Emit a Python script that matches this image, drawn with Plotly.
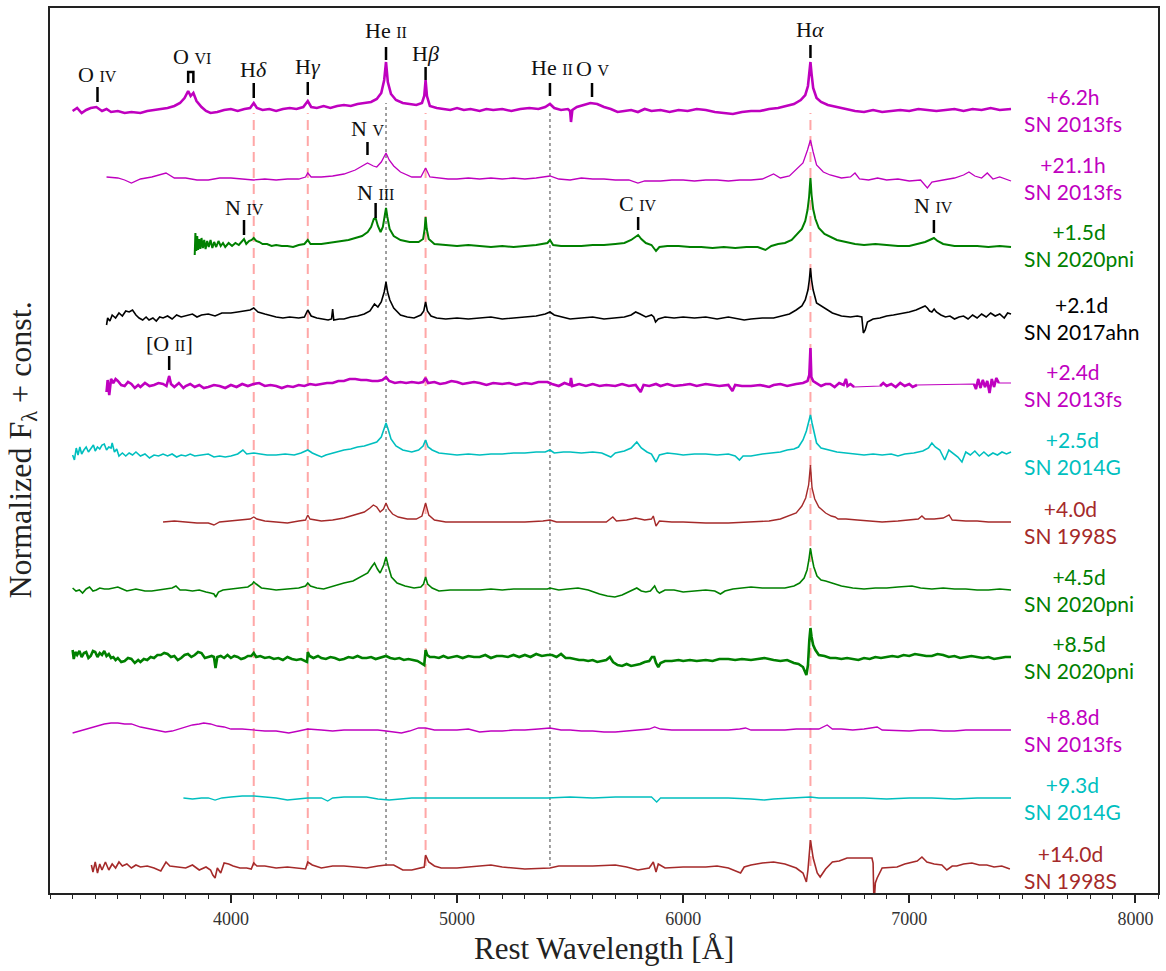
import plotly.graph_objects as go

# ---------------------------------------------------------------------------
# Normalized spectra (rest wavelength [A], F_lambda normalized to continuum = 1)
# ---------------------------------------------------------------------------
sn2013fs_6h = [
    (3300, 0.95), (3320, 1.1), (3340, 0.85), (3360, 1.0), (3380, 1.1), (3405, 1.15), (3430, 0.95),
    (3450, 1.05), (3470, 0.9), (3500, 0.95), (3530, 0.85), (3560, 0.9), (3600, 0.85), (3630, 0.95),
    (3660, 1.0), (3690, 1.05), (3720, 1.1), (3750, 1.2), (3775, 1.35), (3795, 1.6), (3811, 1.95),
    (3822, 1.7), (3834, 1.85), (3848, 1.45), (3870, 1.15), (3890, 0.95), (3910, 0.85), (3940, 0.9),
    (3970, 1.0), (4000, 1.05), (4030, 0.95), (4060, 1.05), (4085, 1.1), (4101, 1.35), (4115, 1.1),
    (4140, 1.0), (4170, 1.05), (4200, 0.95), (4230, 1.05), (4260, 1.1), (4290, 1.05), (4320, 1.15),
    (4340, 1.45), (4355, 1.15), (4380, 1.1), (4410, 1.2), (4440, 1.1), (4470, 1.2), (4500, 1.25),
    (4530, 1.2), (4560, 1.3), (4590, 1.35), (4620, 1.4), (4645, 1.55), (4665, 1.85), (4678, 2.5),
    (4686, 3.4), (4694, 2.4), (4708, 1.8), (4730, 1.5), (4760, 1.35), (4790, 1.3), (4820, 1.25),
    (4845, 1.35), (4855, 1.7), (4861, 2.5), (4867, 1.7), (4880, 1.2), (4910, 1.1), (4940, 1.05),
    (4970, 1.0), (5000, 1.1), (5030, 1.0), (5060, 1.05), (5100, 0.95), (5130, 1.05), (5160, 1.0),
    (5200, 1.05), (5240, 0.95), (5280, 1.05), (5320, 1.1), (5360, 1.05), (5390, 1.15), (5411, 1.3),
    (5430, 1.1), (5460, 1.0), (5490, 1.05), (5500, 0.95), (5504, 0.4), (5510, 1.0), (5530, 1.15),
    (5560, 1.25), (5590, 1.35), (5620, 1.3), (5650, 1.15), (5680, 1.05), (5710, 0.9), (5740, 0.95),
    (5770, 1.0), (5800, 0.9), (5830, 1.05), (5860, 0.95), (5900, 1.0), (5940, 0.9), (5980, 1.0),
    (6020, 0.95), (6060, 1.05), (6100, 1.0), (6140, 0.9), (6180, 0.85), (6220, 0.8), (6260, 0.9),
    (6300, 0.95), (6340, 0.95), (6380, 1.05), (6420, 1.1), (6460, 1.2), (6490, 1.3), (6520, 1.5),
    (6540, 1.75), (6552, 2.2), (6558, 2.9), (6563, 3.4), (6568, 2.8), (6575, 2.1), (6590, 1.6),
    (6610, 1.4), (6640, 1.25), (6680, 1.15), (6720, 1.05), (6760, 0.95), (6800, 0.9), (6840, 1.0),
    (6880, 0.9), (6920, 0.95), (6960, 1.0), (7000, 0.95), (7040, 1.05), (7080, 1.0), (7120, 0.95),
    (7160, 1.0), (7200, 1.05), (7240, 0.95), (7280, 1.05), (7320, 1.0), (7360, 1.1), (7400, 1.0),
    (7450, 1.05),
]

sn2013fs_21h = [
    (3450, 1.05), (3500, 1.0), (3530, 0.9), (3560, 0.75), (3600, 0.95), (3650, 1.05), (3713, 1.25),
    (3750, 1.0), (3800, 1.0), (3850, 0.9), (3900, 0.9), (3950, 1.0), (4000, 1.0), (4050, 0.95),
    (4100, 0.9), (4150, 0.95), (4200, 0.9), (4250, 0.95), (4300, 0.95), (4330, 1.05), (4340, 1.25),
    (4355, 1.05), (4400, 1.05), (4450, 1.1), (4500, 1.2), (4550, 1.4), (4585, 1.6), (4604, 1.75),
    (4630, 1.6), (4645, 1.55), (4665, 1.8), (4680, 2.1), (4686, 2.25), (4700, 1.9), (4720, 1.6),
    (4750, 1.3), (4800, 1.05), (4840, 1.05), (4861, 1.5), (4880, 1.05), (4920, 1.0), (4960, 0.95),
    (5000, 0.95), (5050, 1.0), (5100, 0.95), (5150, 1.0), (5200, 0.95), (5250, 1.0), (5300, 0.95),
    (5350, 1.0), (5411, 1.1), (5450, 0.95), (5500, 0.9), (5550, 1.0), (5600, 0.95), (5650, 0.95),
    (5700, 0.9), (5760, 0.9), (5800, 0.75), (5830, 0.85), (5900, 0.85), (5950, 0.9), (6000, 0.9),
    (6050, 0.85), (6100, 0.9), (6150, 0.9), (6200, 0.85), (6250, 0.9), (6300, 0.9), (6350, 0.95),
    (6400, 1.2), (6430, 1.0), (6470, 1.1), (6500, 1.4), (6530, 1.75), (6550, 2.4), (6563, 2.9),
    (6575, 2.3), (6590, 1.65), (6620, 1.3), (6650, 1.15), (6700, 1.0), (6740, 1.05), (6760, 1.25),
    (6780, 0.95), (6820, 0.9), (6860, 1.0), (6900, 0.9), (6950, 0.95), (7000, 0.85), (7050, 0.9),
    (7080, 0.5), (7100, 0.8), (7150, 0.9), (7200, 1.0), (7240, 1.15), (7264, 1.3), (7290, 1.1),
    (7320, 1.0), (7345, 1.25), (7370, 0.95), (7400, 1.05), (7430, 0.95), (7450, 0.85),
]

sn2020pni_1d5 = [
    (3840, 0.5), (3843, 1.6), (3847, 0.7), (3851, 1.45), (3855, 0.75), (3860, 1.3), (3865, 0.8),
    (3870, 1.35), (3876, 0.85), (3882, 1.25), (3888, 0.8), (3895, 1.2), (3902, 0.9), (3910, 1.25),
    (3918, 0.85), (3926, 1.15), (3935, 0.9), (3945, 1.2), (3955, 0.95), (3965, 1.1), (3975, 0.9),
    (3990, 1.1), (4005, 0.95), (4020, 1.1), (4035, 1.0), (4048, 1.15), (4058, 1.3), (4068, 1.05),
    (4080, 1.2), (4092, 1.25), (4101, 1.35), (4112, 1.2), (4125, 1.15), (4140, 1.05), (4160, 1.05),
    (4180, 0.95), (4200, 1.0), (4225, 0.95), (4250, 0.95), (4275, 0.9), (4300, 1.0), (4325, 1.05),
    (4340, 1.25), (4352, 1.05), (4375, 1.05), (4400, 1.05), (4430, 1.1), (4460, 1.15), (4490, 1.2),
    (4520, 1.25), (4550, 1.35), (4580, 1.45), (4605, 1.65), (4620, 1.9), (4632, 2.3), (4640, 2.35),
    (4650, 1.95), (4662, 1.65), (4672, 1.9), (4680, 2.4), (4686, 2.85), (4692, 2.4), (4702, 1.8),
    (4720, 1.45), (4750, 1.25), (4790, 1.15), (4830, 1.15), (4850, 1.3), (4857, 1.8), (4861, 2.4),
    (4866, 1.8), (4875, 1.3), (4900, 1.05), (4950, 1.0), (5000, 0.95), (5050, 1.0), (5100, 0.95),
    (5150, 0.9), (5200, 0.95), (5250, 0.9), (5300, 0.95), (5350, 1.0), (5400, 1.1), (5411, 1.25),
    (5425, 1.0), (5460, 0.95), (5500, 0.95), (5550, 0.95), (5600, 1.0), (5650, 1.0), (5700, 1.05),
    (5740, 1.1), (5770, 1.25), (5790, 1.4), (5801, 1.5), (5815, 1.3), (5835, 1.1), (5860, 1.0),
    (5880, 0.7), (5895, 0.9), (5930, 0.95), (5980, 0.95), (6030, 0.9), (6080, 0.9), (6130, 0.85),
    (6180, 0.9), (6230, 0.85), (6280, 0.9), (6330, 0.9), (6364, 0.75), (6390, 0.95), (6420, 1.05),
    (6450, 1.1), (6480, 1.25), (6500, 1.5), (6525, 1.8), (6540, 2.2), (6550, 2.75), (6557, 3.4),
    (6563, 4.35), (6568, 3.5), (6575, 2.8), (6585, 2.3), (6600, 1.85), (6625, 1.55), (6650, 1.4),
    (6680, 1.25), (6720, 1.15), (6760, 1.05), (6800, 1.0), (6850, 1.05), (6900, 1.0), (6950, 0.95),
    (7000, 0.95), (7040, 1.05), (7070, 1.15), (7090, 1.25), (7109, 1.35), (7125, 1.2), (7150, 1.05),
    (7200, 0.95), (7250, 0.95), (7300, 0.95), (7350, 0.9), (7400, 0.95), (7450, 0.9),
]

sn2017ahn_2d1 = [
    (3450, 0.65), (3455, 1.0), (3465, 0.85), (3475, 1.15), (3490, 1.0), (3505, 1.25), (3520, 1.1),
    (3535, 1.35), (3550, 1.3), (3565, 1.4), (3580, 1.15), (3594, 1.0), (3610, 0.9), (3625, 1.05),
    (3638, 0.9), (3655, 1.0), (3670, 0.85), (3685, 1.05), (3700, 1.0), (3720, 1.1), (3740, 0.95),
    (3760, 1.15), (3780, 1.05), (3800, 1.1), (3830, 1.2), (3850, 1.05), (3870, 1.15), (3900, 1.2),
    (3930, 1.1), (3960, 1.25), (4000, 1.25), (4030, 1.3), (4060, 1.35), (4085, 1.4), (4101, 1.5),
    (4120, 1.3), (4150, 1.2), (4180, 1.1), (4200, 1.05), (4230, 1.0), (4260, 1.05), (4300, 1.0),
    (4325, 1.05), (4340, 1.4), (4355, 1.1), (4380, 1.0), (4400, 0.95), (4430, 0.9), (4445, 0.95),
    (4450, 1.45), (4455, 0.9), (4480, 0.95), (4500, 0.95), (4530, 1.05), (4560, 1.1), (4590, 1.2),
    (4615, 1.35), (4635, 1.7), (4650, 1.55), (4665, 1.8), (4678, 2.3), (4686, 2.8), (4693, 2.3),
    (4703, 1.9), (4720, 1.5), (4750, 1.15), (4780, 1.05), (4810, 1.0), (4840, 1.15), (4853, 1.35),
    (4861, 1.8), (4869, 1.35), (4885, 1.1), (4910, 1.0), (4950, 0.95), (5000, 1.0), (5050, 0.95),
    (5100, 1.0), (5150, 1.05), (5200, 0.95), (5250, 1.0), (5300, 1.05), (5350, 1.1), (5390, 1.2),
    (5411, 1.3), (5430, 1.15), (5470, 1.05), (5500, 0.95), (5550, 1.0), (5600, 1.05), (5650, 0.95),
    (5700, 1.0), (5740, 1.05), (5770, 1.15), (5790, 1.3), (5810, 1.2), (5835, 1.05), (5860, 1.15),
    (5870, 1.05), (5878, 0.8), (5890, 0.95), (5920, 1.05), (5960, 1.0), (6000, 1.05), (6050, 1.0),
    (6100, 1.05), (6150, 0.95), (6200, 1.05), (6240, 0.95), (6270, 0.9), (6300, 0.95), (6350, 1.0),
    (6400, 1.0), (6430, 1.1), (6470, 1.2), (6500, 1.4), (6525, 1.6), (6540, 1.9), (6552, 2.4),
    (6558, 2.9), (6563, 3.5), (6568, 2.9), (6575, 2.4), (6590, 1.75), (6610, 1.6), (6630, 1.45),
    (6660, 1.25), (6700, 1.1), (6740, 1.05), (6770, 1.1), (6790, 1.05), (6797, 0.25), (6805, 0.4),
    (6815, 0.8), (6840, 0.95), (6870, 1.0), (6900, 1.1), (6930, 1.15), (6960, 1.2), (7000, 1.3),
    (7030, 1.4), (7050, 1.5), (7070, 1.6), (7080, 1.5), (7090, 1.35), (7100, 1.3), (7110, 1.45),
    (7120, 1.3), (7140, 1.15), (7160, 1.05), (7180, 1.1), (7200, 0.95), (7220, 1.05), (7240, 1.1),
    (7260, 0.95), (7280, 1.15), (7300, 1.0), (7320, 1.2), (7340, 1.05), (7360, 1.25), (7380, 1.1),
    (7400, 1.2), (7420, 1.0), (7435, 1.25), (7450, 1.2),
]

sn2013fs_2d4 = [
    (3450, 0.65), (3455, 1.25), (3462, 0.5), (3470, 1.3), (3480, 1.1), (3490, 1.3), (3500, 1.2),
    (3515, 1.0), (3530, 0.95), (3545, 1.15), (3560, 1.05), (3575, 0.85), (3590, 1.0), (3600, 0.9),
    (3620, 1.1), (3640, 0.95), (3660, 1.0), (3680, 1.1), (3700, 1.05), (3715, 0.95), (3727, 1.45),
    (3735, 1.05), (3750, 0.9), (3770, 1.1), (3790, 0.85), (3800, 0.95), (3820, 1.05), (3840, 0.9),
    (3860, 1.0), (3880, 0.85), (3900, 0.9), (3925, 1.0), (3950, 0.95), (3975, 0.85), (4000, 1.0),
    (4025, 0.9), (4050, 1.05), (4075, 0.95), (4100, 1.05), (4125, 1.1), (4150, 0.95), (4175, 1.0),
    (4200, 0.95), (4225, 0.85), (4250, 0.95), (4275, 0.9), (4300, 1.0), (4325, 0.95), (4350, 1.05),
    (4375, 1.0), (4400, 1.05), (4425, 1.1), (4450, 1.1), (4475, 1.2), (4500, 1.2), (4525, 1.3),
    (4550, 1.3), (4575, 1.25), (4600, 1.25), (4625, 1.2), (4650, 1.2), (4670, 1.25), (4686, 1.4),
    (4700, 1.2), (4725, 1.1), (4750, 1.15), (4775, 1.1), (4800, 1.15), (4830, 1.1), (4850, 1.15),
    (4861, 1.35), (4872, 1.1), (4900, 1.15), (4925, 1.05), (4950, 1.1), (4975, 1.2), (5000, 1.15),
    (5025, 1.05), (5050, 1.1), (5075, 1.15), (5100, 1.1), (5130, 1.0), (5160, 1.1), (5200, 1.05),
    (5230, 1.1), (5260, 1.0), (5300, 1.1), (5330, 1.05), (5360, 1.15), (5400, 1.15), (5420, 1.05),
    (5450, 0.95), (5475, 1.1), (5500, 1.0), (5504, 1.35), (5510, 0.95), (5540, 1.05), (5570, 0.95),
    (5600, 1.05), (5630, 0.95), (5660, 1.0), (5700, 0.95), (5730, 1.05), (5760, 0.95), (5790, 1.0),
    (5812, 0.65), (5825, 1.0), (5850, 0.95), (5880, 1.05), (5900, 0.95), (5930, 1.05), (5960, 0.95),
    (6000, 1.0), (6030, 1.05), (6060, 0.95), (6100, 1.05), (6130, 1.0), (6160, 0.95), (6200, 1.0),
    (6218, 0.7), (6230, 1.0), (6260, 0.95), (6300, 0.95), (6340, 1.0), (6380, 0.9), (6400, 1.0),
    (6430, 1.05), (6460, 0.95), (6500, 1.05), (6530, 1.1), (6550, 1.2), (6558, 1.5), (6563, 2.85),
    (6567, 1.4), (6575, 1.2), (6590, 1.1), (6610, 0.95), (6630, 1.05), (6650, 1.05), (6670, 0.9),
    (6690, 1.1), (6710, 1.0), (6720, 1.3), (6727, 0.95), (6740, 1.05), (6756, 0.9), (6871, 0.95),
    (6885, 1.1), (6900, 0.95), (6920, 1.05), (6940, 0.9), (6960, 1.1), (6980, 0.95), (7000, 1.05),
    (7015, 0.9), (7034, 1.0), (7286, 1.05), (7295, 0.8), (7305, 1.3), (7315, 0.85), (7325, 1.25),
    (7335, 0.9), (7345, 1.2), (7355, 0.6), (7365, 1.3), (7375, 0.9), (7385, 1.35), (7396, 1.1),
    (7450, 1.1),
]
# wavelength windows of sn2013fs_2d4 that hold measured pixels (the rest is interpolated)
sn2013fs_2d4_measured = [(3450, 6756), (6871, 7034), (7286, 7396)]

sn2014g_2d5 = [
    (3300, 0.9), (3308, 0.65), (3316, 1.25), (3324, 0.9), (3332, 1.3), (3340, 0.95), (3350, 1.15),
    (3360, 1.3), (3370, 1.05), (3380, 1.2), (3392, 1.4), (3400, 1.1), (3410, 1.3), (3420, 1.2),
    (3430, 1.4), (3440, 1.45), (3450, 1.15), (3460, 1.3), (3470, 1.25), (3475, 1.5), (3485, 1.05),
    (3495, 1.2), (3505, 0.85), (3520, 1.0), (3535, 0.85), (3550, 1.0), (3565, 0.9), (3580, 1.05),
    (3600, 0.85), (3620, 0.95), (3640, 0.75), (3660, 0.9), (3680, 0.85), (3700, 0.95), (3720, 0.85),
    (3740, 0.95), (3760, 0.8), (3780, 0.9), (3800, 0.85), (3820, 0.95), (3840, 0.85), (3870, 0.9),
    (3900, 0.95), (3925, 0.8), (3950, 0.85), (3975, 0.8), (4000, 0.85), (4030, 0.95), (4053, 1.15),
    (4070, 0.95), (4101, 1.0), (4130, 0.95), (4160, 0.9), (4200, 0.9), (4240, 0.95), (4280, 0.9),
    (4310, 1.0), (4340, 1.15), (4360, 1.0), (4380, 0.9), (4401, 0.8), (4420, 0.9), (4450, 1.0),
    (4480, 1.1), (4500, 1.15), (4530, 1.2), (4560, 1.3), (4590, 1.35), (4620, 1.45), (4645, 1.55),
    (4665, 1.8), (4678, 2.2), (4686, 2.5), (4695, 2.2), (4708, 1.7), (4730, 1.35), (4760, 1.15),
    (4800, 1.05), (4830, 1.15), (4850, 1.35), (4861, 1.65), (4872, 1.3), (4890, 1.15), (4920, 1.0),
    (4950, 0.95), (5000, 0.9), (5050, 0.95), (5100, 0.9), (5150, 0.95), (5200, 0.95), (5250, 1.0),
    (5300, 1.0), (5350, 1.05), (5390, 1.05), (5411, 1.15), (5430, 1.0), (5470, 1.05), (5500, 1.05),
    (5550, 1.0), (5600, 1.05), (5640, 1.0), (5680, 0.8), (5700, 1.0), (5740, 1.1), (5770, 1.25),
    (5795, 1.55), (5815, 1.25), (5840, 1.05), (5860, 0.95), (5880, 0.55), (5895, 0.9), (5930, 1.0),
    (5970, 0.95), (6000, 0.9), (6050, 0.95), (6100, 0.95), (6150, 0.9), (6200, 0.95), (6230, 0.85),
    (6249, 0.65), (6265, 0.85), (6300, 0.85), (6350, 0.95), (6400, 1.0), (6430, 1.05), (6460, 1.15),
    (6490, 1.2), (6510, 1.3), (6530, 1.65), (6545, 2.1), (6556, 2.6), (6563, 2.9), (6570, 2.5),
    (6578, 2.15), (6590, 1.5), (6610, 1.25), (6640, 1.15), (6680, 1.05), (6720, 1.0), (6760, 0.95),
    (6800, 0.9), (6840, 0.95), (6880, 0.9), (6920, 0.95), (6950, 0.85), (6980, 0.95), (7020, 1.0),
    (7060, 1.1), (7085, 1.25), (7100, 1.5), (7115, 1.3), (7135, 1.15), (7157, 0.65), (7175, 1.15),
    (7195, 0.95), (7215, 0.8), (7233, 0.55), (7250, 1.05), (7270, 0.9), (7290, 1.1), (7310, 0.85),
    (7330, 1.05), (7350, 0.85), (7370, 1.0), (7390, 0.9), (7410, 1.05), (7430, 0.95), (7450, 1.05),
]

sn1998s_4d0 = [
    (3700, 1.0), (3750, 1.05), (3800, 1.0), (3850, 0.95), (3900, 0.95), (3925, 0.85), (3950, 1.0),
    (4000, 1.05), (4050, 1.1), (4085, 1.15), (4101, 1.25), (4115, 1.15), (4150, 1.05), (4200, 1.0),
    (4250, 0.95), (4300, 1.05), (4330, 1.1), (4340, 1.35), (4350, 1.15), (4400, 1.05), (4450, 1.1),
    (4500, 1.2), (4550, 1.35), (4590, 1.5), (4615, 1.7), (4630, 1.85), (4645, 1.75), (4660, 1.5),
    (4675, 1.65), (4686, 1.95), (4697, 1.65), (4715, 1.4), (4740, 1.25), (4780, 1.15), (4820, 1.15),
    (4845, 1.3), (4861, 1.95), (4875, 1.35), (4900, 1.1), (4950, 1.0), (5000, 1.0), (5100, 1.0),
    (5200, 1.0), (5300, 1.0), (5380, 1.05), (5411, 1.1), (5440, 1.0), (5500, 1.0), (5600, 1.0),
    (5660, 1.0), (5689, 1.25), (5705, 1.05), (5750, 1.1), (5790, 1.2), (5830, 1.1), (5860, 1.15),
    (5868, 1.3), (5880, 0.8), (5895, 1.05), (5950, 1.0), (6000, 1.0), (6100, 0.95), (6200, 0.95),
    (6300, 1.0), (6380, 1.05), (6430, 1.15), (6470, 1.3), (6500, 1.45), (6525, 1.8), (6542, 2.2),
    (6555, 2.85), (6563, 3.85), (6570, 2.7), (6582, 2.15), (6600, 1.75), (6630, 1.45), (6655, 1.3),
    (6672, 1.25), (6685, 1.15), (6720, 1.15), (6770, 1.1), (6820, 1.05), (6880, 1.0), (6950, 1.05),
    (7010, 1.1), (7040, 1.15), (7056, 1.3), (7070, 1.15), (7110, 1.15), (7150, 1.2), (7176, 1.35),
    (7190, 1.1), (7250, 1.05), (7300, 1.05), (7350, 1.0), (7400, 1.0), (7450, 1.0),
]

sn2020pni_4d5 = [
    (3300, 1.1), (3315, 0.95), (3330, 1.0), (3344, 0.85), (3360, 1.05), (3375, 1.15), (3390, 0.95),
    (3405, 1.0), (3420, 1.1), (3440, 1.05), (3460, 1.05), (3480, 1.1), (3500, 1.15), (3520, 1.05),
    (3540, 0.95), (3560, 1.0), (3580, 1.05), (3600, 1.0), (3620, 0.95), (3650, 0.95), (3680, 1.0),
    (3710, 1.05), (3740, 1.1), (3757, 1.2), (3775, 1.0), (3800, 1.0), (3830, 0.95), (3860, 1.0),
    (3872, 0.95), (3890, 0.9), (3910, 0.85), (3925, 0.8), (3933, 0.65), (3945, 0.9), (3965, 1.0),
    (4000, 1.05), (4040, 1.1), (4075, 1.15), (4095, 1.3), (4101, 1.4), (4112, 1.3), (4135, 1.1),
    (4170, 1.05), (4200, 1.0), (4250, 1.05), (4300, 1.1), (4330, 1.2), (4340, 1.35), (4352, 1.2),
    (4380, 1.1), (4410, 1.05), (4450, 1.2), (4500, 1.35), (4540, 1.45), (4575, 1.65), (4605, 1.85),
    (4622, 2.15), (4635, 2.35), (4648, 2.05), (4660, 1.85), (4676, 2.25), (4686, 2.65), (4696, 2.2),
    (4710, 1.65), (4735, 1.35), (4770, 1.2), (4810, 1.1), (4840, 1.15), (4852, 1.3), (4861, 1.65),
    (4870, 1.3), (4890, 1.1), (4920, 0.95), (4970, 1.0), (5030, 1.0), (5100, 1.0), (5150, 1.05),
    (5200, 1.0), (5250, 1.05), (5300, 1.05), (5350, 1.05), (5400, 1.05), (5411, 1.1), (5450, 1.0),
    (5490, 1.05), (5535, 1.1), (5580, 1.0), (5630, 0.8), (5665, 0.7), (5698, 0.65), (5730, 0.75),
    (5770, 0.95), (5795, 1.1), (5815, 0.95), (5835, 0.9), (5855, 0.95), (5874, 1.2), (5885, 0.95),
    (5895, 0.85), (5920, 1.0), (5960, 1.0), (6000, 0.9), (6050, 0.95), (6100, 1.0), (6140, 0.95),
    (6165, 0.8), (6185, 0.95), (6220, 1.05), (6260, 1.1), (6300, 1.15), (6350, 1.1), (6400, 1.1),
    (6450, 1.1), (6490, 1.2), (6515, 1.35), (6535, 1.6), (6548, 2.0), (6556, 2.5), (6563, 3.1),
    (6570, 2.6), (6578, 2.15), (6592, 1.7), (6610, 1.5), (6630, 1.45), (6660, 1.35), (6700, 1.2),
    (6750, 1.1), (6800, 1.05), (6850, 1.1), (6900, 1.1), (6950, 1.15), (7012, 1.2), (7050, 1.1),
    (7100, 1.05), (7150, 1.1), (7200, 1.05), (7250, 1.05), (7300, 1.0), (7350, 1.0), (7400, 1.05),
    (7450, 1.0),
]

sn2020pni_8d5 = [
    (3300, 1.35), (3305, 0.9), (3312, 1.25), (3320, 1.1), (3330, 1.3), (3340, 1.0), (3350, 1.2),
    (3360, 1.25), (3370, 0.95), (3380, 1.05), (3390, 1.3), (3400, 1.25), (3410, 1.0), (3420, 1.2),
    (3430, 1.1), (3440, 1.3), (3450, 1.05), (3460, 1.15), (3470, 0.95), (3480, 1.0), (3490, 0.85),
    (3500, 0.95), (3515, 0.75), (3530, 0.8), (3545, 0.95), (3560, 0.9), (3575, 0.7), (3590, 0.85),
    (3600, 0.75), (3615, 0.9), (3630, 0.85), (3645, 1.0), (3660, 0.95), (3675, 1.1), (3690, 1.1),
    (3705, 1.2), (3720, 1.15), (3735, 1.0), (3750, 1.05), (3765, 0.85), (3780, 0.95), (3795, 1.1),
    (3810, 1.15), (3825, 1.0), (3840, 1.1), (3855, 1.25), (3870, 1.2), (3885, 0.95), (3900, 1.0),
    (3915, 1.05), (3925, 1.0), (3932, 0.45), (3940, 1.0), (3955, 1.05), (3970, 0.95), (3985, 1.1),
    (4000, 0.95), (4015, 1.05), (4030, 1.0), (4045, 0.9), (4060, 0.95), (4075, 1.05), (4090, 1.05),
    (4101, 1.2), (4112, 1.0), (4130, 1.05), (4150, 0.95), (4170, 1.0), (4190, 0.9), (4210, 0.95),
    (4230, 0.85), (4250, 1.0), (4270, 0.9), (4290, 0.85), (4310, 0.9), (4330, 0.8), (4337, 0.75),
    (4340, 1.25), (4348, 1.05), (4365, 0.95), (4385, 1.05), (4400, 0.95), (4420, 0.9), (4440, 1.0),
    (4460, 0.95), (4480, 0.85), (4500, 0.9), (4520, 1.0), (4540, 0.95), (4560, 1.05), (4580, 0.95),
    (4600, 0.95), (4620, 1.0), (4640, 0.9), (4660, 0.95), (4686, 1.05), (4705, 0.95), (4725, 0.9),
    (4745, 0.95), (4765, 0.85), (4785, 0.9), (4805, 0.85), (4825, 0.8), (4840, 0.7), (4855, 0.6),
    (4861, 1.35), (4868, 1.1), (4880, 1.0), (4900, 1.0), (4920, 0.95), (4940, 1.05), (4960, 0.95),
    (4980, 1.0), (5000, 1.05), (5025, 0.95), (5050, 1.05), (5075, 1.0), (5100, 1.0), (5125, 1.1),
    (5150, 0.95), (5175, 1.05), (5200, 1.05), (5225, 1.0), (5250, 1.1), (5275, 1.0), (5300, 1.1),
    (5325, 1.0), (5350, 1.15), (5375, 1.05), (5400, 1.1), (5420, 1.1), (5440, 1.0), (5460, 1.15),
    (5480, 0.95), (5500, 0.95), (5520, 0.9), (5540, 0.85), (5560, 0.85), (5580, 0.8), (5600, 0.85),
    (5620, 0.75), (5640, 0.8), (5660, 0.85), (5676, 1.0), (5690, 0.75), (5710, 0.6), (5730, 0.55),
    (5750, 0.65), (5770, 0.55), (5790, 0.6), (5810, 0.65), (5830, 0.75), (5850, 0.8), (5862, 1.0),
    (5872, 1.0), (5880, 0.7), (5890, 0.5), (5900, 0.7), (5920, 0.8), (5950, 0.8), (5980, 0.85),
    (6000, 0.8), (6030, 0.85), (6060, 0.8), (6100, 0.85), (6130, 0.8), (6160, 0.9), (6200, 0.9),
    (6230, 0.85), (6260, 0.9), (6300, 0.85), (6330, 0.9), (6360, 0.95), (6400, 0.85), (6430, 0.8),
    (6460, 0.85), (6490, 0.7), (6510, 0.65), (6530, 0.5), (6545, 0.1), (6552, 0.6), (6558, 1.85),
    (6563, 2.45), (6568, 2.0), (6575, 1.6), (6585, 1.35), (6600, 1.1), (6625, 1.05), (6650, 0.95),
    (6675, 0.95), (6700, 0.9), (6725, 0.95), (6750, 0.9), (6775, 0.85), (6800, 0.95), (6825, 0.9),
    (6850, 1.0), (6875, 0.95), (6900, 1.0), (6925, 1.05), (6950, 1.0), (6975, 1.1), (7000, 1.05),
    (7025, 1.15), (7050, 1.1), (7075, 1.05), (7100, 1.05), (7125, 1.15), (7150, 1.1), (7175, 1.0),
    (7200, 1.05), (7225, 0.95), (7250, 1.0), (7275, 1.05), (7300, 1.0), (7325, 0.95), (7350, 1.0),
    (7375, 0.9), (7400, 0.95), (7425, 1.0), (7450, 1.0),
]

sn2013fs_8d8 = [
    (3300, 0.85), (3330, 0.95), (3360, 1.05), (3400, 1.2), (3440, 1.3), (3470, 1.35), (3500, 1.35),
    (3530, 1.3), (3560, 1.3), (3600, 1.15), (3640, 1.05), (3680, 0.95), (3710, 0.9), (3740, 0.95),
    (3770, 1.05), (3800, 1.15), (3830, 1.25), (3860, 1.3), (3880, 1.35), (3910, 1.3), (3940, 1.2),
    (3970, 1.15), (4000, 1.05), (4050, 1.05), (4100, 1.0), (4150, 0.95), (4200, 0.95), (4256, 0.85),
    (4300, 0.95), (4340, 1.05), (4400, 1.0), (4450, 0.95), (4500, 1.0), (4550, 1.0), (4600, 1.0),
    (4650, 1.0), (4686, 0.95), (4720, 0.9), (4754, 0.85), (4790, 0.95), (4830, 1.1), (4861, 1.1),
    (4900, 1.0), (4950, 1.0), (5000, 1.0), (5050, 1.05), (5100, 0.9), (5150, 0.95), (5200, 0.95),
    (5250, 1.0), (5300, 1.0), (5360, 1.05), (5411, 1.1), (5460, 1.0), (5500, 1.0), (5550, 0.95),
    (5600, 0.95), (5650, 0.9), (5700, 0.9), (5750, 0.95), (5800, 1.0), (5850, 1.05), (5874, 1.15),
    (5900, 1.05), (5950, 1.0), (6000, 1.0), (6050, 1.0), (6100, 1.0), (6150, 1.0), (6200, 1.0),
    (6250, 1.05), (6276, 1.1), (6300, 1.0), (6350, 1.0), (6400, 1.0), (6450, 1.0), (6500, 1.05),
    (6563, 1.05), (6600, 1.05), (6637, 1.25), (6660, 1.05), (6700, 1.05), (6750, 1.0), (6800, 1.05),
    (6858, 1.15), (6880, 1.0), (6950, 0.95), (7000, 0.95), (7050, 1.0), (7100, 1.0), (7150, 0.95),
    (7200, 0.95), (7250, 1.0), (7300, 1.0), (7350, 1.0), (7400, 1.0), (7450, 1.0),
]

sn2014g_9d3 = [
    (3790, 1.0), (3830, 0.95), (3870, 1.0), (3900, 1.0), (3930, 0.9), (3960, 1.0), (4000, 1.05),
    (4050, 1.1), (4101, 1.1), (4150, 1.05), (4200, 1.0), (4250, 0.9), (4300, 0.95), (4340, 1.0),
    (4400, 1.0), (4428, 0.85), (4450, 1.0), (4500, 1.05), (4550, 1.05), (4600, 1.05), (4650, 0.95),
    (4700, 0.9), (4750, 0.95), (4800, 1.0), (4850, 1.0), (4900, 1.0), (5000, 1.0), (5100, 1.0),
    (5200, 1.0), (5300, 1.0), (5400, 1.0), (5500, 1.05), (5600, 1.0), (5700, 1.05), (5800, 1.05),
    (5860, 1.05), (5883, 0.8), (5900, 1.0), (6000, 1.0), (6100, 1.0), (6200, 1.0), (6300, 0.95),
    (6359, 0.9), (6400, 0.95), (6500, 1.0), (6563, 1.05), (6600, 1.0), (6700, 1.0), (6800, 1.0),
    (6900, 0.95), (7000, 1.0), (7100, 1.0), (7200, 0.95), (7300, 1.0), (7400, 1.0), (7450, 1.0),
]

sn1998s_14d0 = [
    (3383, 1.1), (3390, 0.75), (3400, 1.25), (3410, 0.7), (3420, 1.15), (3430, 0.85), (3445, 1.25),
    (3460, 0.85), (3475, 1.15), (3490, 0.95), (3505, 1.25), (3520, 1.05), (3540, 1.15), (3560, 0.95),
    (3580, 1.1), (3600, 1.0), (3630, 1.05), (3660, 0.95), (3690, 0.8), (3713, 1.25), (3730, 1.05),
    (3760, 1.0), (3800, 0.95), (3830, 1.1), (3860, 0.85), (3890, 1.0), (3910, 0.85), (3920, 0.6),
    (3930, 0.45), (3940, 0.95), (3955, 0.7), (3970, 1.2), (3990, 1.15), (4010, 1.05), (4040, 0.95),
    (4070, 0.95), (4090, 0.9), (4101, 1.2), (4115, 1.05), (4150, 1.05), (4200, 0.95), (4250, 1.0),
    (4300, 0.95), (4330, 0.9), (4340, 1.25), (4360, 1.1), (4400, 0.95), (4450, 1.05), (4500, 1.05),
    (4550, 1.0), (4600, 0.95), (4650, 1.05), (4686, 1.1), (4720, 1.1), (4760, 0.85), (4800, 0.85),
    (4840, 0.95), (4855, 1.0), (4861, 1.6), (4875, 1.25), (4900, 1.05), (4930, 0.95), (5000, 0.95),
    (5050, 1.0), (5100, 1.05), (5150, 1.1), (5200, 1.0), (5300, 0.9), (5411, 0.95), (5450, 1.05),
    (5500, 1.05), (5600, 1.05), (5700, 1.1), (5750, 1.0), (5800, 0.85), (5850, 0.95), (5868, 1.25),
    (5880, 0.75), (5890, 1.15), (5920, 0.95), (6000, 1.0), (6100, 1.0), (6150, 1.05), (6200, 0.95),
    (6254, 0.7), (6270, 1.0), (6300, 1.1), (6350, 1.2), (6400, 1.25), (6450, 1.15), (6500, 0.95),
    (6530, 0.7), (6545, 0.25), (6552, 0.85), (6563, 2.35), (6575, 1.45), (6593, 0.7), (6606, 0.5),
    (6630, 0.9), (6660, 1.25), (6690, 1.3), (6725, 1.45), (6780, 1.45), (6835, 1.45), (6840, 1.2),
    (6844, -0.9), (6850, 0.2), (6858, 0.45), (6880, 0.95), (6920, 1.0), (6946, 1.0), (6980, 1.15),
    (7012, 1.25), (7035, 1.3), (7056, 1.5), (7078, 1.25), (7110, 1.15), (7144, 1.1), (7166, 0.85),
    (7190, 1.05), (7210, 1.05), (7240, 1.15), (7277, 1.2), (7310, 1.1), (7343, 1.1), (7375, 1.0),
    (7409, 1.05), (7430, 0.95), (7445, 0.9),
]

# epochs, objects and vertical offsets (top to bottom)
epochs = ["+6.2h", "+21.1h", "+1.5d", "+2.1d", "+2.4d", "+2.5d",
          "+4.0d", "+4.5d", "+8.5d", "+8.8d", "+9.3d", "+14.0d"]
objects = ["SN 2013fs", "SN 2013fs", "SN 2020pni", "SN 2017ahn", "SN 2013fs", "SN 2014G",
           "SN 1998S", "SN 2020pni", "SN 2020pni", "SN 2013fs", "SN 2014G", "SN 1998S"]
offsets = [38.15, 34.75, 31.4, 27.75, 24.4, 21.0, 17.55, 14.15, 10.8, 7.15, 3.75, 0.3]
spectra = [sn2013fs_6h, sn2013fs_21h, sn2020pni_1d5, sn2017ahn_2d1, sn2013fs_2d4, sn2014g_2d5,
           sn1998s_4d0, sn2020pni_4d5, sn2020pni_8d5, sn2013fs_8d8, sn2014g_9d3, sn1998s_14d0]

# rest wavelengths of the Balmer series and He II guide lines
balmer_waves = [4101, 4340, 4861, 6563]
heii_waves = [4686, 5411]

MAGENTA, CYAN, GREEN, BROWN, BLACK = "#bf00bf", "#00bfbf", "#008000", "#a52a2a", "#000000"
obj_colors = {"SN 2013fs": MAGENTA, "SN 2020pni": GREEN, "SN 2017ahn": BLACK,
              "SN 2014G": CYAN, "SN 1998S": BROWN}
line_widths = [2.6, 1.3, 2.0, 1.6, 1.3, 1.6, 1.4, 1.6, 2.6, 1.3, 1.3, 1.6]

SERIF = "Liberation Serif, Times New Roman, serif"
SANS = "Lato, Noto Sans, DejaVu Sans, sans-serif"

fig = go.Figure()

# guide lines for the Balmer series and He II
for w in balmer_waves:
    fig.add_shape(type="line", x0=w, x1=w, y0=1.35, y1=39.0, xref="x", yref="y", layer="below",
                  line=dict(color="rgba(255,80,80,0.5)", width=2, dash="10px,6px"))
for w, top in zip(heii_waves, [39.5, 39.0]):
    fig.add_shape(type="line", x0=w, x1=w, y0=1.35, y1=top, xref="x", yref="y", layer="below",
                  line=dict(color="#808080", width=1.5, dash="3px,3px"))

for i, spec in enumerate(spectra):
    col = obj_colors[objects[i]]
    wl = [p[0] for p in spec]
    fl = [p[1] + offsets[i] for p in spec]
    width = line_widths[i]
    if spec is sn2013fs_2d4:
        fig.add_trace(go.Scatter(x=wl, y=fl, mode="lines", line=dict(color=col, width=1.2),
                                 hoverinfo="skip", showlegend=False))
        for lo, hi in sn2013fs_2d4_measured:
            seg = [p for p in spec if lo <= p[0] <= hi]
            fig.add_trace(go.Scatter(x=[p[0] for p in seg], y=[p[1] + offsets[i] for p in seg],
                                     mode="lines", line=dict(color=col, width=2.6),
                                     hoverinfo="skip", showlegend=False))
    else:
        fig.add_trace(go.Scatter(x=wl, y=fl, mode="lines", line=dict(color=col, width=width),
                                 hoverinfo="skip", showlegend=False))
    fig.add_annotation(x=7500, y=offsets[i] + 1.0, xref="x", yref="y",
                       text=f"{epochs[i]}<br>{objects[i]}", showarrow=False,
                       xanchor="left", yanchor="middle", align="center",
                       font=dict(family=SANS, size=21, color=col))


def ion(name, stage):
    return f"{name} <span style='font-size:16px'>{stage}</span>"


# (label, wavelength of tick, tick bottom, tick top, label x, label y)
line_ids = [
    (ion("O", "IV"), 3410, 39.55, 40.3, 3410, 40.95),
    (ion("He", "II"), 4686, 41.65, 42.3, 4686, 43.15),
    ("H<i>δ</i>", 4101, 39.75, 40.5, 4101, 41.2),
    ("H<i>γ</i>", 4340, 39.9, 40.55, 4340, 41.35),
    ("H<i>β</i>", 4861, 40.65, 41.3, 4861, 42.0),
    (ion("He", "II"), 5411, 39.85, 40.5, 5420, 41.3),
    (ion("O", "V"), 5597, 39.8, 40.5, 5597, 41.25),
    ("H<i>α</i>", 6563, 41.75, 42.4, 6563, 43.2),
    (ion("N", "V"), 4604, 36.9, 37.55, 4604, 38.25),
    (ion("N", "III"), 4640, 33.75, 34.5, 4640, 35.05),
    (ion("N", "IV"), 4058, 32.9, 33.65, 4058, 34.3),
    (ion("C", "IV"), 5801, 33.15, 33.8, 5801, 34.5),
    (ion("N", "IV"), 7109, 33.0, 33.65, 7109, 34.4),
    ("[" + ion("O", "II") + "]", 3727, 26.15, 26.85, 3727, 27.5),
]
for label, w, y0, y1, lx, ly in line_ids:
    fig.add_shape(type="line", x0=w, x1=w, y0=y0, y1=y1, xref="x", yref="y",
                  line=dict(color="black", width=2.5))
    fig.add_annotation(x=lx, y=ly, xref="x", yref="y", text=label, showarrow=False,
                       xanchor="center", yanchor="middle",
                       font=dict(family=SERIF, size=22, color="#111111"))

# O VI doublet (3811, 3834) bracket
fig.add_shape(type="path", path="M 3811,40.5 L 3811,41.05 L 3834,41.05 L 3834,40.5",
              xref="x", yref="y", line=dict(color="black", width=2.5))
fig.add_annotation(x=3828, y=41.85, xref="x", yref="y", text=ion("O", "VI"), showarrow=False,
                   xanchor="center", yanchor="middle", font=dict(family=SERIF, size=22, color="#111111"))

# axis titles
fig.add_annotation(x=-0.0252, y=0.5, xref="paper", yref="paper", textangle=-90,
                   text="Normalized F<sub>λ</sub> + const.", showarrow=False,
                   xanchor="center", yanchor="middle", font=dict(family=SERIF, size=32, color="#222222"))
fig.add_annotation(x=0.5, y=-0.063, xref="paper", yref="paper",
                   text="Rest Wavelength [Å]", showarrow=False,
                   xanchor="center", yanchor="middle", font=dict(family=SERIF, size=31, color="#222222"))

fig.update_layout(
    width=1166, height=971,
    margin=dict(l=50, r=6, t=8, b=78),
    paper_bgcolor="white", plot_bgcolor="white",
    showlegend=False,
    xaxis=dict(range=[3200, 8100], tick0=0, dtick=1000, ticks="outside", ticklen=8, tickwidth=1.5,
               tickcolor="#222222", showline=True, linecolor="#222222", linewidth=2, mirror=True,
               showgrid=False, zeroline=False,
               tickfont=dict(family=SERIF, size=18, color="#333333"),
               minor=dict(dtick=100, ticks="outside", ticklen=4, tickwidth=1.2, tickcolor="#222222")),
    yaxis=dict(range=[0, 44.25], showticklabels=False, ticks="", showline=True, linecolor="#222222",
               linewidth=2, mirror=True, showgrid=False, zeroline=False),
)

fig.write_html("out.html")
